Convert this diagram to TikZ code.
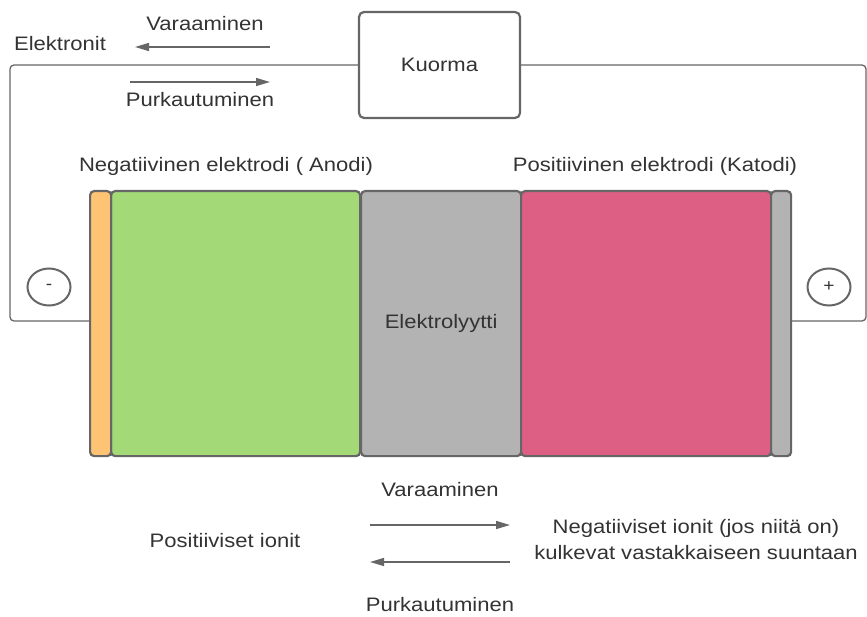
\documentclass[tikz,border=0pt]{standalone}
\usepackage{fontspec}
\setmainfont{Liberation Sans}[FakeStretch=1.13]
\usetikzlibrary{arrows.meta, positioning, shapes.geometric}
\definecolor{wireGray}{RGB}{102, 102, 102}
\definecolor{textDark}{RGB}{51, 51, 51}
\definecolor{anodeOrange}{RGB}{255, 195, 116}
\definecolor{anodeGreen}{RGB}{163, 217, 119}
\definecolor{cellGray}{RGB}{179, 179, 179}
\definecolor{cathodePink}{RGB}{222, 95, 132}

\begin{document}
\begin{tikzpicture}[
    x=1pt, y=-1pt,
    caption/.style={
        font=\fontsize{19.5}{26}\selectfont,
        text=textDark,
        inner sep=0pt,
        align=center
    },
    layer/.style={
        rectangle,
        rounded corners=4pt,
        draw=wireGray,
        line width=2.2pt,
        inner sep=0pt,
        minimum height=265pt,
        anchor=north west
    },
    load/.style={
        rectangle,
        rounded corners=5pt,
        draw=wireGray,
        line width=2.2pt,
        fill=white,
        minimum width=161pt,
        minimum height=106pt,
        font=\fontsize{19.5}{22}\selectfont,
        text=textDark
    },
    pole/.style={
        ellipse,
        draw=wireGray,
        line width=2pt,
        minimum width=43pt,
        minimum height=37pt,
        inner sep=0pt,
        font=\fontsize{17}{17}\selectfont,
        text=textDark
    },
    wire/.style={
        draw=wireGray,
        line width=1.3pt,
        rounded corners=4pt
    },
    flow/.style={
        draw=wireGray,
        line width=1.5pt,
        -{Triangle[length=14pt, width=8pt]}
    }
]
\useasboundingbox (0,0) rectangle (867,617);

% Battery layers
\node[layer, fill=anodeGreen, minimum width=249pt] (anode) at (110,190) {};
\node[layer, fill=anodeOrange, minimum width=21pt] (anodeCC) at (89,190) {};
\node[layer, fill=cellGray, minimum width=160pt] (electrolyte) at (360,190) {};
\node[layer, fill=cathodePink, minimum width=250pt] (cathode) at (520,190) {};
\node[layer, fill=cellGray, minimum width=20pt] (cathodeCC) at (770,190) {};
\node[caption] at (electrolyte.center) {Elektrolyytti};

\node[caption] (anodeLabel) at (226,166) {Negatiivinen elektrodi ( Anodi)};
\node[caption] (cathodeLabel) at (655,166) {Positiivinen elektrodi (Katodi)};

% Load and external circuit
\node[load] (kuorma) at (439.5,65) {Kuorma};
\coordinate (wireTL) at (10,65);
\coordinate (wireBL) at (10,321);
\coordinate (wireTR) at (866,65);
\coordinate (wireBR) at (866,321);
\draw[wire] (kuorma.west) -- (wireTL) -- (wireBL) -- (wireBL -| anodeCC.west);
\draw[wire] (kuorma.east) -- (wireTR) -- (wireBR) -- (wireBR -| cathodeCC.east);

\node[pole] (minus) at (49,287) {-};
\node[pole] (plus) at (829,287) {+};

% Electron flow
\node[caption] (elektronit) at (60,44) {Elektronit};
\node[caption] (eCharge) at (205,24) {Varaaminen};
\node[caption] (eDischarge) at (200,100) {Purkautuminen};
\coordinate (eChargeFrom) at (270,47);
\coordinate (eChargeTo) at (135,47);
\coordinate (eDischargeFrom) at (130,82);
\coordinate (eDischargeTo) at (270,82);
\draw[flow] (eChargeFrom) -- (eChargeTo);
\draw[flow] (eDischargeFrom) -- (eDischargeTo);

% Ion flow
\node[caption] (iCharge) at (440,490) {Varaaminen};
\node[caption] (iDischarge) at (440,605) {Purkautuminen};
\node[caption] (posIons) at (225,541) {Positiiviset ionit};
\node[caption] (negIons) at (696,540) {Negatiiviset ionit (jos niitä on)\\kulkevat vastakkaiseen suuntaan};
\coordinate (iChargeFrom) at (370,525);
\coordinate (iChargeTo) at (510,525);
\coordinate (iDischargeFrom) at (510,562);
\coordinate (iDischargeTo) at (370,562);
\draw[flow] (iChargeFrom) -- (iChargeTo);
\draw[flow] (iDischargeFrom) -- (iDischargeTo);

\end{tikzpicture}
\end{document}
